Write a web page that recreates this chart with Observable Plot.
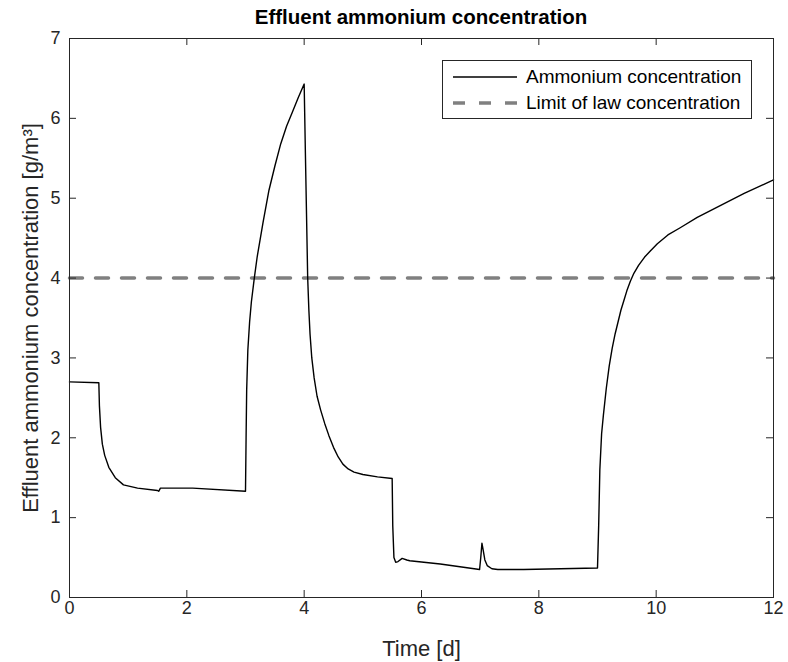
<!DOCTYPE html>
<html><head><meta charset="utf-8">
<script src="https://cdn.jsdelivr.net/npm/d3@7"></script>
<script src="https://cdn.jsdelivr.net/npm/@observablehq/plot@0.6"></script>
<style>
body{margin:0;background:#fff;font-family:"Liberation Sans",Arial,sans-serif;}
#wrap{position:relative;width:788px;height:662px;overflow:hidden;}
#title{position:absolute;left:69px;width:704px;top:0;height:34px;text-align:center;font-weight:bold;font-size:20.5px;line-height:34px;color:#000;}
#chart{position:absolute;left:0;top:24px;}
#legend{position:absolute;left:442px;top:60px;width:308px;height:57px;border:1px solid #262626;background:#fff;}
.lrow{position:absolute;left:0;height:24px;width:308px;}
.lrow svg{position:absolute;left:10px;top:0;}
.lrow span{position:absolute;left:83px;top:0;line-height:24px;font-size:19px;color:#000;white-space:nowrap;}
</style></head>
<body>
<div id="wrap">
  <div id="title"></div>
  <div id="chart"></div>
  <div id="legend"></div>
</div>
<script>
const titleText = "Effluent ammonium concentration";
const xLabel = "Time [d]";
const yLabel = "Effluent ammonium concentration [g/m³]";
const seriesNames = ["Ammonium concentration", "Limit of law concentration"];
const xTicks = [0, 2, 4, 6, 8, 10, 12];
const yTicks = [0, 1, 2, 3, 4, 5, 6, 7];
const limitValue = 4;

const time = [
  0, 0.5, 0.51, 0.53, 0.56, 0.6, 0.67, 0.78, 0.92, 1.16, 1.5, 1.52, 1.55, 2.1, 3.0,
  3.01, 3.02, 3.04, 3.07, 3.1, 3.15, 3.2, 3.3, 3.4, 3.5, 3.6, 3.7, 3.8, 3.9, 4.0,
  4.02, 4.04, 4.06, 4.08, 4.1, 4.13, 4.17, 4.22, 4.28, 4.35, 4.42, 4.5, 4.58, 4.66, 4.75, 4.85, 5.0, 5.25, 5.5,
  5.51, 5.53, 5.56, 5.6, 5.67, 5.75, 5.8, 6.32, 6.99,
  7.01, 7.03, 7.05, 7.08, 7.12, 7.2, 7.3, 7.74, 9.0,
  9.02, 9.04, 9.07, 9.1, 9.15, 9.2, 9.25, 9.3, 9.35, 9.4, 9.45, 9.5, 9.56, 9.62, 9.7, 9.8, 9.9, 10.02, 10.2, 10.41, 10.7, 11.1, 11.5, 12
];
const ammonium = [
  2.70, 2.69, 2.4, 2.13, 1.92, 1.78, 1.63, 1.5, 1.41, 1.37, 1.34, 1.33, 1.37, 1.37, 1.33,
  2.0, 2.6, 3.1, 3.45, 3.7, 4.0, 4.27, 4.7, 5.1, 5.4, 5.68, 5.9, 6.08, 6.26, 6.43,
  5.6, 4.8, 4.0, 3.6, 3.3, 3.0, 2.75, 2.52, 2.35, 2.18, 2.03, 1.88, 1.76, 1.67, 1.61, 1.57, 1.54, 1.51, 1.49,
  0.9, 0.5, 0.44, 0.45, 0.49, 0.47, 0.46, 0.42, 0.35,
  0.5, 0.68, 0.6, 0.47, 0.40, 0.36, 0.35, 0.35, 0.37,
  0.9, 1.6, 2.05, 2.28, 2.62, 2.9, 3.12, 3.3, 3.45, 3.6, 3.72, 3.84, 3.96, 4.06, 4.16, 4.26, 4.34, 4.43, 4.54, 4.63, 4.76, 4.91, 5.06, 5.23
];

const data = time.map((t, i) => ({t, c: ammonium[i]}));
const limit = [{t: xTicks[0], c: limitValue}, {t: xTicks[xTicks.length - 1], c: limitValue}];

const axisColor = "#262626";
const frameW = 704, frameH = 559, tickLen = 7;

document.getElementById("title").textContent = titleText;

const chart = Plot.plot({
  width: 788,
  height: 638,
  marginLeft: 69,
  marginRight: 15,
  marginTop: 14,
  marginBottom: 65,
  style: {fontFamily: "'Liberation Sans', Arial, sans-serif", background: "#fff"},
  x: {domain: [0, 12]},
  y: {domain: [0, 7]},
  marks: [
    Plot.line(limit, {x: "t", y: "c", stroke: "#808080", strokeWidth: 3.5, strokeDasharray: "13,13"}),
    Plot.line(data, {x: "t", y: "c", stroke: "#000", strokeWidth: 1.4, curve: "linear"}),
    Plot.tickX(xTicks, {x: d => d, insetTop: frameH - tickLen, stroke: axisColor}),
    Plot.tickX(xTicks, {x: d => d, insetBottom: frameH - tickLen, stroke: axisColor}),
    Plot.tickY(yTicks, {y: d => d, insetRight: frameW - tickLen, stroke: axisColor}),
    Plot.tickY(yTicks, {y: d => d, insetLeft: frameW - tickLen, stroke: axisColor}),
    Plot.frame({stroke: axisColor, strokeWidth: 1}),
    Plot.axisX({ticks: xTicks, tickSize: 0, tickPadding: 4, fontSize: 18, fill: axisColor, label: null, tickFormat: d => String(d)}),
    Plot.axisY({ticks: yTicks, tickSize: 0, tickPadding: 9, fontSize: 18, fill: axisColor, label: null, tickFormat: d => String(d)}),
    Plot.text([xLabel], {frameAnchor: "bottom", lineAnchor: "middle", textAnchor: "middle", dy: 51, fontSize: 22, fill: axisColor}),
    Plot.text([yLabel], {frameAnchor: "left", lineAnchor: "middle", textAnchor: "middle", rotate: -90, dx: -39, fontSize: 22, fill: axisColor})
  ]
});
document.getElementById("chart").appendChild(chart);

// legend
const legend = document.getElementById("legend");
const rows = [
  {name: seriesNames[0], stroke: "#000", width: 1.4, dash: null, top: 4},
  {name: seriesNames[1], stroke: "#808080", width: 3.5, dash: "12,14", top: 30}
];
rows.forEach(r => {
  const row = document.createElement("div");
  row.className = "lrow";
  row.style.top = r.top + "px";
  row.innerHTML = `<svg width="66" height="24"><line x1="0" x2="64" y1="12" y2="12" stroke="${r.stroke}" stroke-width="${r.width}" ${r.dash ? `stroke-dasharray="${r.dash}"` : ""}/></svg><span></span>`;
  row.querySelector("span").textContent = r.name;
  legend.appendChild(row);
});
</script>
</body></html>
